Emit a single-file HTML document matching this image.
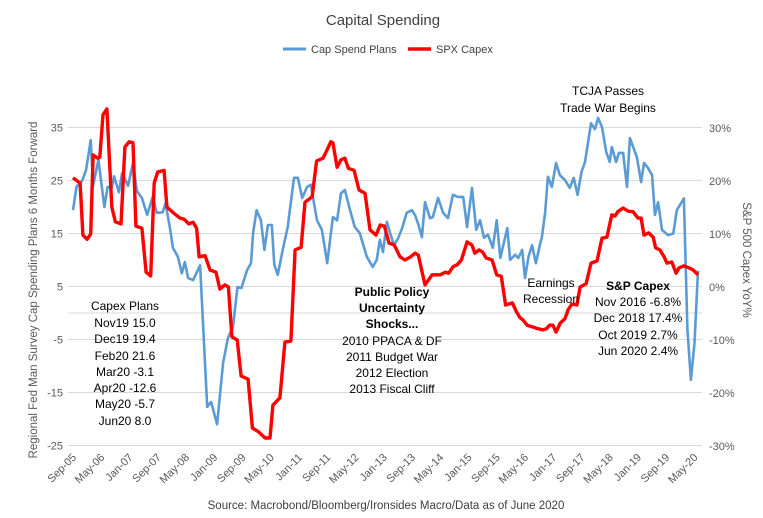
<!DOCTYPE html>
<html><head><meta charset="utf-8">
<style>
body{margin:0;background:#fff;width:763px;height:518px;overflow:hidden;font-family:"Liberation Sans",Arial,sans-serif;}
svg{display:block}
</style></head>
<body>
<svg id="chart" width="763" height="518" viewBox="0 0 763 518" xmlns="http://www.w3.org/2000/svg" font-family="Liberation Sans, Arial, sans-serif">
<rect width="763" height="518" fill="#fff"/>
<text x="383" y="25" text-anchor="middle" font-size="15" fill="#404040">Capital Spending</text>
<g>
<line x1="283" y1="49" x2="306" y2="49" stroke="#5B9BD5" stroke-width="3"/>
<text x="311" y="53" font-size="11" fill="#404040">Cap Spend Plans</text>
<line x1="408" y1="49" x2="431" y2="49" stroke="#FF0000" stroke-width="3.5"/>
<text x="436" y="53" font-size="11" fill="#404040">SPX Capex</text>
</g>
<g id="grid"></g>
<g id="axes"></g>
<g id="series"></g>
<text transform="translate(37,290) rotate(-90)" text-anchor="middle" font-size="11.5" fill="#595959">Regional Fed Man Survey Cap Spending Plans 6 Months Forward</text>
<text transform="translate(743,260) rotate(90)" text-anchor="middle" font-size="11.5" fill="#595959">S&amp;P 500 Capex YoY%</text>
<g font-size="12" fill="#000" text-anchor="middle">
<text x="125" y="310">Capex Plans</text>
<text x="125" y="327">Nov19 15.0</text>
<text x="125" y="343">Dec19 19.4</text>
<text x="125" y="360">Feb20 21.6</text>
<text x="125" y="376">Mar20 -3.1</text>
<text x="125" y="392">Apr20 -12.6</text>
<text x="125" y="408">May20 -5.7</text>
<text x="125" y="425">Jun20 8.0</text>
</g>
<g font-size="12" fill="#000" text-anchor="middle">
<text x="392" y="296" font-weight="bold">Public Policy</text>
<text x="392" y="312" font-weight="bold">Uncertainty</text>
<text x="392" y="328" font-weight="bold">Shocks...</text>
<text x="392" y="345">2010 PPACA &amp; DF</text>
<text x="392" y="361">2011 Budget War</text>
<text x="392" y="377">2012 Election</text>
<text x="392" y="393">2013 Fiscal Cliff</text>
</g>
<g font-size="12" fill="#000" text-anchor="middle">
<text x="551" y="287">Earnings</text>
<text x="551" y="303">Recession</text>
</g>
<g font-size="12" fill="#000" text-anchor="middle">
<text x="638" y="290" font-weight="bold">S&amp;P Capex</text>
<text x="638" y="306">Nov 2016 -6.8%</text>
<text x="638" y="322">Dec 2018 17.4%</text>
<text x="638" y="339">Oct 2019 2.7%</text>
<text x="638" y="355">Jun 2020 2.4%</text>
</g>
<g font-size="12" fill="#000" text-anchor="middle">
<text x="608" y="95">TCJA Passes</text>
<text x="608" y="112">Trade War Begins</text>
</g>
<text x="386" y="509" text-anchor="middle" font-size="11.5" fill="#404040">Source: Macrobond/Bloomberg/Ironsides Macro/Data as of June 2020</text>
</svg>
<script>
const leftTicks=[35,25,15,5,-5,-15,-25];
const rightTicks=[30,20,10,0,-10,-20,-30];
const xTickMonths=[0,8,16,24,32,40,48,56,64,72,80,88,96,104,112,120,128,136,144,152,160,168,176];
const xTickLabels=["Sep-05","May-06","Jan-07","Sep-07","May-08","Jan-09","Sep-09","May-10","Jan-11","Sep-11","May-12","Jan-13","Sep-13","May-14","Jan-15","Sep-15","May-16","Jan-17","Sep-17","May-18","Jan-19","Sep-19","May-20"];
const capMonths=[0,1,2.6,3.7,5,5.7,7.2,8.9,9.8,11,11.6,13,13.9,15.6,17,18.1,19.5,21,22.6,23.7,25.4,26.2,27.4,28.3,29.7,30.8,31.7,32.6,34,36,38,39.1,40.8,42.5,43.9,45.3,46.6,47.7,49.3,50.4,51,52,53.2,54.2,55.2,56.3,57,58,59.4,60.8,62.6,63.7,64.9,66.3,67.4,68,69.1,70.5,72,73.6,74.8,75.9,77,78.3,79.8,81.2,83.2,84.9,86,86.9,87.8,88.9,89.8,90.9,92,93.2,94.5,96,96.9,97.7,98.8,99.7,101.1,101.9,103.4,104.8,106.2,107.6,109,110.5,111.6,113,114.2,115.3,116.4,117.5,118.9,120,121,123,123.8,125.2,126.1,127.2,128,129,130,131.1,132.2,132.8,133.7,134.5,135.6,136.8,137.9,139.3,140.7,141.8,142.9,144,145,146.7,147.8,148.7,149.8,151,152,152.6,153.8,154.6,155.8,156.9,157.7,159.7,160.9,161.7,162.8,164,164.8,165.7,166.8,168.5,170,171,172,173,174,175,176,177];
const capValues=[19.4,23.8,25,27,32.6,24,28.9,20,23.8,23.6,25.8,22.8,26.4,24,28.3,23,21.7,18.5,22,18.9,19,20.7,16.2,12.3,10.6,7.5,9.6,6.6,6.2,9,-17.7,-16.8,-21,-9.4,-4.7,-2.6,4.9,4.7,8.1,9.4,15.1,19.4,17.5,11.9,16.6,16.6,9.1,7.2,11.9,16.2,25.5,25.5,21.7,23.8,24.2,21.7,17.5,15.7,9.4,18.1,17.5,22.6,23.2,19.8,16.2,15.1,10.6,8.7,10,13.8,11.5,17.2,15.1,12.8,14,16,18.9,19.4,18.4,16.9,14.3,20.9,17.9,18.1,21.7,18.9,17.9,22.3,21.9,21.9,16.2,23.6,15.7,17.5,14.2,14.8,12.3,17.5,10.4,16,10,11,10.4,11.9,6.6,10.6,12.8,9.4,12.8,14.3,18.9,25.7,23.8,28.3,26,25.1,23.6,25.5,22.3,26.6,28.5,35.8,34.7,36.8,35.1,30.4,28.5,31.3,28.5,30.2,30.2,23.8,33,29.4,24.7,28.3,27.4,26,18.5,20.9,15.7,14.7,15,19.4,20.5,21.6,-3.1,-12.6,-5.7,8.0];
const spxMonths=[0,2,2.8,4,5,5.7,7,7.6,8.5,9.6,11,12,13.6,14.7,15.9,17,17.8,19.5,20.7,22,23,24,25.8,26.6,28.4,30.3,31.5,32.8,34,35,35.7,37.4,38.8,40.5,41.6,43,44,45,46.5,47.6,49.6,50.8,52.5,54.4,55.8,56.6,58.6,60,61.7,62.9,64.6,65.7,67.7,69,70.8,71.9,73,73.6,74.8,75.9,77,78,79.6,81,82.7,84.1,85.8,87,88.2,89.5,91,92.6,94,95.6,96.9,97.8,99.7,101.7,104,105.5,106.4,107.6,108.8,110,111.6,113,113.8,115,116,117,118.7,120,121.3,122.5,124.4,125.6,126.6,127.4,128.6,130,131.3,133,134,135,135.9,136.8,138,139.3,140.2,141.3,142.7,143.6,145.3,146.7,148.4,149.8,151.2,152.6,153.5,154.3,155.8,157.2,158.6,160,160.9,161.7,163,164.3,165,166.2,167.4,168.2,169.6,170.8,171.6,173,174.5,175.6,177];
const spxValues=[20.6,19.6,9.8,9,10,24.9,24.3,24.5,32.5,33.6,15.1,12.3,11.9,26.4,27.4,27.2,11.5,11.1,2.8,2.1,19.6,21.7,22,15.1,14,13,12.8,11.9,12.2,11.1,5.7,5.9,3.2,2.8,-0.4,0.4,0,-9.4,-10,-16.8,-17.4,-26.6,-27.3,-28.5,-28.5,-22.3,-20.9,-10.4,-10.2,7,7.5,16,17,23.8,24.3,25.8,27.4,27.2,22.6,24,24.3,22.4,22,18.3,17.7,10.8,9.8,11.7,11.5,8.3,7.9,5.7,5.1,5.7,6.4,6,0.4,2.3,2.3,2.8,2.6,3.8,4.2,5.1,8.5,7.9,6.4,7,6.6,5.5,5.1,2.3,2,-3.4,-3,-4.7,-5.8,-6.2,-7.2,-7.5,-7.8,-8.1,-7.9,-7.2,-7.2,-8.5,-6.8,-6,-4.3,-3.2,-3.4,0,0.6,4.5,4.9,9.2,9.4,13.6,13.4,14.2,14.9,14.3,14.2,13,13,9.8,10.2,9.4,7.4,7,5.7,4.5,4.7,2.6,3.6,4,3.6,3.2,2.3];

const NS='http://www.w3.org/2000/svg';
const X0=73,X1=698,M0=0,M1=177;
function xScale(m){return X0+(m-M0)*(X1-X0)/(M1-M0);}
function yLeft(v){return 313-v*5.3;}
function yRight(p){return 287-p*5.3;}
function mk(tag,attrs,parent){const e=document.createElementNS(NS,tag);for(const k in attrs)e.setAttribute(k,attrs[k]);parent.appendChild(e);return e;}
const grid=document.getElementById('grid'),axes=document.getElementById('axes'),series=document.getElementById('series');
const gridVals=[35,25,15,5,0,-5,-15,-25];
gridVals.forEach(v=>{
  const l=mk('line',{x1:68,x2:702,y1:yLeft(v),y2:yLeft(v),stroke:'#D9D9D9','stroke-width':1},grid);
  
  
});
leftTicks.forEach(v=>{
  const t=mk('text',{x:63,y:yLeft(v)+4,'text-anchor':'end','font-size':11,fill:'#595959'},axes);
  t.textContent=String(v);
  
  
});
rightTicks.forEach(p=>{
  const t=mk('text',{x:709,y:yRight(p)+4,'font-size':11,fill:'#595959'},axes);
  t.textContent=p+'%';
  
  
});
xTickMonths.forEach((m,i)=>{
  const x=xScale(m)+4,y=458;
  const t=mk('text',{x:x,y:y,'text-anchor':'end','font-size':11,fill:'#595959',transform:'rotate(-45 '+x+' '+y+')'},axes);
  t.textContent=xTickLabels[i];
  
  
});
function path(ms,vs,ys){return ms.map((m,i)=>(i?'L':'M')+xScale(m).toFixed(1)+' '+ys(vs[i]).toFixed(1)).join(' ');}
const bl=mk('path',{d:path(capMonths,capValues,yLeft),fill:'none',stroke:'#5B9BD5','stroke-width':2.6,'stroke-linejoin':'round'},series);


const rl=mk('path',{d:path(spxMonths,spxValues,yRight),fill:'none',stroke:'#FF0000','stroke-width':3.4,'stroke-linejoin':'round'},series);


</script>
</body></html>
